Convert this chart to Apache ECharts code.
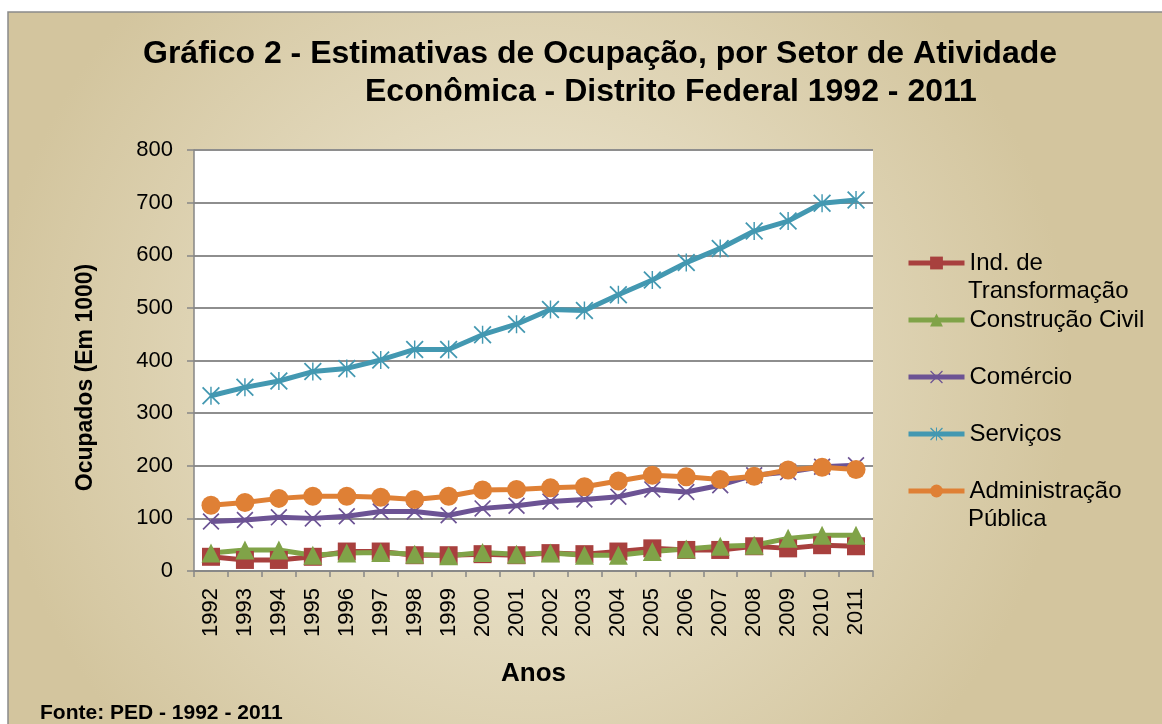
<!DOCTYPE html>
<html>
<head>
<meta charset="utf-8">
<script src="https://cdn.jsdelivr.net/npm/echarts@6/dist/echarts.min.js"></script>
<style>
  html, body { margin: 0; padding: 0; background: #fff; }
  #grafico { width: 1162px; height: 724px; }
</style>
</head>
<body>
<div id="grafico"></div>
<script>
// Dados (ocupados, em 1000)
const anos = ['1992', '1993', '1994', '1995', '1996', '1997', '1998', '1999', '2000', '2001',
              '2002', '2003', '2004', '2005', '2006', '2007', '2008', '2009', '2010', '2011'];
const indTransformacao = [27, 21, 21, 27, 37, 37, 30, 30, 32, 30, 34, 32, 37, 43, 40, 40, 47, 43, 49, 47];
const construcaoCivil = [34, 40, 40, 30, 34, 35, 32, 29, 35, 32, 34, 30, 30, 37, 42, 47, 49, 62, 68, 68];
const comercio = [94, 97, 102, 100, 104, 113, 113, 106, 119, 124, 132, 136, 141, 155, 150, 163, 182, 188, 198, 201];
const servicos = [333, 349, 361, 379, 385, 401, 421, 421, 449, 469, 497, 495, 525, 553, 586, 613, 646, 665, 699, 705];
const administracao = [125, 130, 138, 142, 142, 140, 136, 142, 154, 155, 158, 160, 171, 182, 179, 174, 180, 192, 197, 193];
const valoresEixoY = { min: 0, max: 800, interval: 100 };

const fonte = 'Liberation Sans, Arial, sans-serif';

// Marcadores em X e asterisco
const simboloX = 'path://M0,7L7,0L100,93L93,100Z M93,0L100,7L7,100L0,93Z';
const simboloAsterisco = 'path://M0,7L7,0L100,93L93,100Z M93,0L100,7L7,100L0,93Z M46,0L54,0L54,100L46,100Z';

function serie(nome, dados, cor, simbolo, tamanho) {
    return {
        name: nome,
        type: 'line',
        data: dados,
        symbol: simbolo,
        symbolSize: tamanho,
        showAllSymbol: true,
        lineStyle: { color: cor, width: 5 },
        itemStyle: { color: cor },
        emphasis: { disabled: true },
        animation: false
    };
}

let grafico = echarts.init(document.getElementById('grafico'));

let option = {
    backgroundColor: '#fff',
    graphic: [
        {
            type: 'rect',
            z: -10,
            shape: { x: 8, y: 12, width: 1160, height: 720 },
            style: {
                fill: {
                    type: 'radial', x: 0.45, y: 0.5, r: 0.75,
                    colorStops: [
                        { offset: 0, color: '#f1ebd8' },
                        { offset: 1, color: '#d3c59e' }
                    ]
                },
                stroke: '#8a8a8a',
                lineWidth: 1.5
            }
        },
        {
            type: 'text', left: 968, top: 279,
            style: { text: 'Transformação', font: '24px ' + fonte, fill: '#000' }
        },
        {
            type: 'text', left: 968, top: 507,
            style: { text: 'Pública', font: '24px ' + fonte, fill: '#000' }
        },
        {
            type: 'text', left: 40, top: 703,
            style: { text: 'Fonte: PED - 1992 - 2011', font: 'bold 21px ' + fonte, fill: '#000' }
        }
    ],
    title: [
        {
            text: 'Gráfico 2 - Estimativas de Ocupação, por Setor de Atividade',
            left: 143, top: 38, padding: 0,
            textStyle: { fontFamily: fonte, fontSize: 32, fontWeight: 'bold', color: '#000' }
        },
        {
            text: 'Econômica - Distrito Federal 1992 - 2011',
            left: 365, top: 76, padding: 0,
            textStyle: { fontFamily: fonte, fontSize: 32, fontWeight: 'bold', color: '#000' }
        }
    ],
    legend: {
        orient: 'vertical',
        left: 906,
        top: 251,
        itemWidth: 56,
        itemHeight: 16,
        itemGap: 33,
        padding: 0,
        selectedMode: false,
        lineStyle: { width: 5 },
        formatter: function (nome) {
            if (nome === 'Ind. de Transformação') return 'Ind. de';
            if (nome === 'Administração Pública') return 'Administração';
            return nome;
        },
        textStyle: { fontFamily: fonte, fontSize: 24, color: '#000' },
        data: ['Ind. de Transformação', 'Construção Civil', 'Comércio', 'Serviços', 'Administração Pública']
    },
    grid: {
        left: 194, right: 289, top: 150, bottom: 153,
        show: true, backgroundColor: '#fff', borderWidth: 0
    },
    xAxis: {
        type: 'category',
        data: anos,
        boundaryGap: true,
        name: 'Anos',
        nameLocation: 'middle',
        nameGap: 90,
        nameTextStyle: { fontFamily: fonte, fontSize: 26, fontWeight: 'bold', color: '#000' },
        axisLine: { lineStyle: { color: '#868686', width: 1.5 } },
        axisTick: { show: true, length: 6, alignWithLabel: false, lineStyle: { color: '#868686', width: 1.5 } },
        axisLabel: { rotate: 90, margin: 17, interval: 0, fontFamily: fonte, fontSize: 22, color: '#000' }
    },
    yAxis: {
        type: 'value',
        min: valoresEixoY.min,
        max: valoresEixoY.max,
        interval: valoresEixoY.interval,
        name: 'Ocupados (Em 1000)',
        nameLocation: 'middle',
        nameGap: 97,
        nameTextStyle: { fontFamily: fonte, fontSize: 23, fontWeight: 'bold', color: '#000', padding: [0, 34, 0, 0] },
        axisLine: { show: true, lineStyle: { color: '#868686', width: 1.5 } },
        axisTick: { show: true, length: 7, lineStyle: { color: '#868686', width: 1.5 } },
        axisLabel: { margin: 21, fontFamily: fonte, fontSize: 22, color: '#000' },
        splitLine: { lineStyle: { color: '#8e8e8e', width: 2 } }
    },
    series: [
        serie('Ind. de Transformação', indTransformacao, '#a8403e', 'rect', 18),
        serie('Construção Civil', construcaoCivil, '#80a348', 'triangle', 19),
        serie('Comércio', comercio, '#6c5394', simboloX, 17),
        serie('Serviços', servicos, '#4398b1', simboloAsterisco, 18),
        serie('Administração Pública', administracao, '#df8035', 'circle', 19)
    ]
};

grafico.setOption(option);
window.onresize = () => grafico.resize();
</script>
</body>
</html>
